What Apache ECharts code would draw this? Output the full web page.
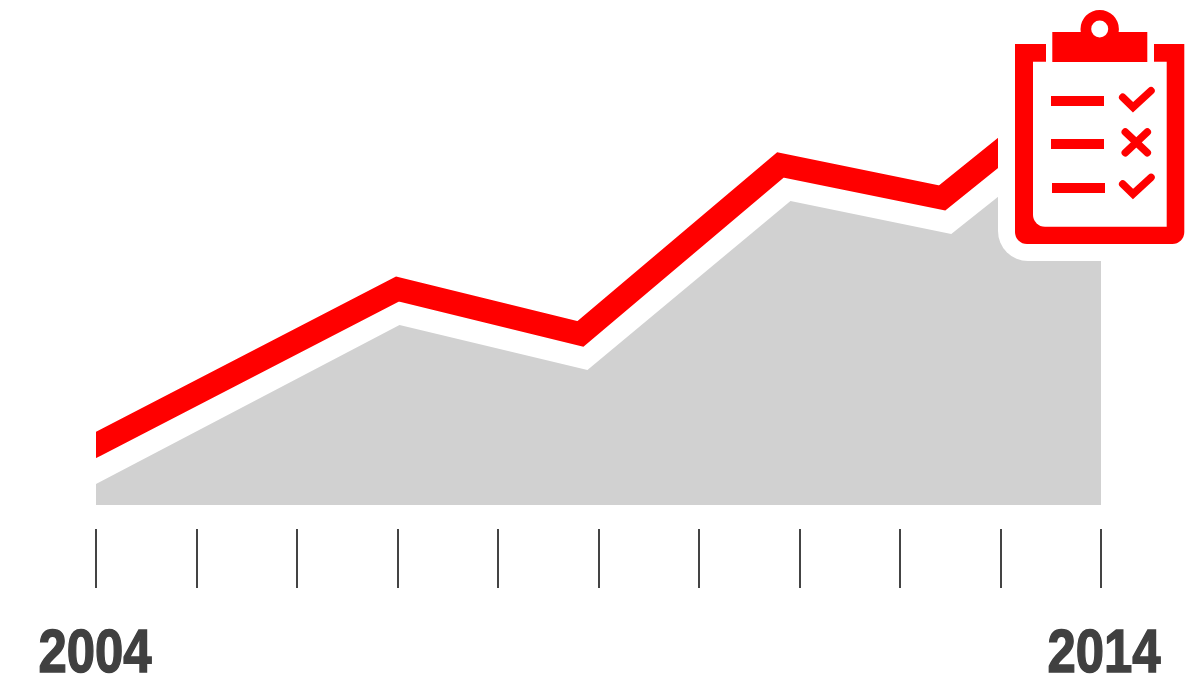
<!DOCTYPE html>
<html><head><meta charset="utf-8">
<style>html,body{margin:0;padding:0;background:#fff}#c{width:1201px;height:688px}</style>
<script src="https://cdn.jsdelivr.net/npm/echarts@6/dist/echarts.min.js"></script>
</head><body><div id="c"></div>
<script>
const tickLabels = [2004, 2014];
const greyYears  = [2004, 2007.02, 2008.89, 2010.91, 2012.51, 2014];
const greyValues = [21, 180, 135, 304, 271, 390];
const redYears   = [2003.8, 2004, 2007, 2008.82, 2010.81, 2012.42, 2014];
const redValues  = [50, 60, 216, 171, 340, 307, 435];
const zip = (a, b) => a.map((v, i) => [v, b[i]]);
const RED = '#ff0000';
const chart = echarts.init(document.getElementById('c'), null, {renderer: 'canvas'});
const stroke = {stroke: RED, lineWidth: 7.5, lineCap: 'round', lineJoin: 'miter', fill: null};
const el = (type, shape, style) => ({type, shape, style, z: 100, silent: true});
const white = {fill: '#fff'}, red = {fill: RED};
chart.setOption({
  animation: false,
  backgroundColor: '#fff',
  grid: {left: 96, right: 100, top: 0, bottom: 183, containLabel: false},
  xAxis: {
    type: 'value', min: 2004, max: 2014, interval: 1, offset: 24,
    splitLine: {show: false}, axisLine: {show: false, onZero: false},
    axisTick: {show: true, length: 59, lineStyle: {color: '#444', width: 2}},
    axisLabel: {show: false}
  },
  yAxis: {type: 'value', min: 0, max: 505, show: false},
  series: [
    {type: 'line', data: zip(greyYears, greyValues), showSymbol: false, z: 1,
     lineStyle: {width: 0}, areaStyle: {color: '#d1d1d1', opacity: 1}},
    {type: 'line', data: zip(redYears, redValues), showSymbol: false, z: 2,
     lineStyle: {color: RED, width: 23.5, join: 'miter', cap: 'butt', miterLimit: 10}}
  ]
});
const labelShift = [-1, 3];
chart.setOption({graphic: {elements: [
  el('rect', {x: 0, y: 400, width: 96, height: 80}, white),
  el('rect', {x: 998, y: -40, width: 240, height: 301, r: [0, 0, 0, 30]}, white),
  el('rect', {x: 1015, y: 44, width: 169.3, height: 200, r: [0, 0, 12, 12]}, red),
  el('rect', {x: 1033, y: 61.7, width: 133.7, height: 165, r: [0, 0, 0, 12]}, white),
  el('rect', {x: 1046, y: 40, width: 108, height: 24}, white),
  el('rect', {x: 1052.3, y: 32, width: 95, height: 30}, red),
  el('circle', {cx: 1099.7, cy: 29.2, r: 19.2}, red),
  el('circle', {cx: 1099.7, cy: 29, r: 8.5}, white),
  el('rect', {x: 1051, y: 96, width: 53, height: 10}, red),
  el('rect', {x: 1051, y: 139, width: 53, height: 10}, red),
  el('rect', {x: 1052, y: 183, width: 53, height: 10}, red),
  el('polyline', {points: [[1122.7, 97.3], [1133, 107.3], [1151, 90.7]]}, stroke),
  el('polyline', {points: [[1122.7, 184], [1133, 194], [1151, 177.4]]}, stroke),
  el('line', {x1: 1125.3, y1: 132, x2: 1147.3, y2: 152.7}, stroke),
  el('line', {x1: 1147.3, y1: 132, x2: 1125.3, y2: 152.7}, stroke),
  ...tickLabels.map((t, i) => ({
    type: 'text', z: 100, silent: true,
    x: chart.convertToPixel({xAxisIndex: 0}, t) + labelShift[i], y: 686,
    scaleX: 0.82,
    style: {text: String(t), align: 'center', verticalAlign: 'bottom',
      fontFamily: '"Liberation Sans"', fontWeight: 'bold', fontSize: 62,
      fill: '#404040', stroke: '#404040', lineWidth: 1.5}
  }))
]}});
</script></body></html>
